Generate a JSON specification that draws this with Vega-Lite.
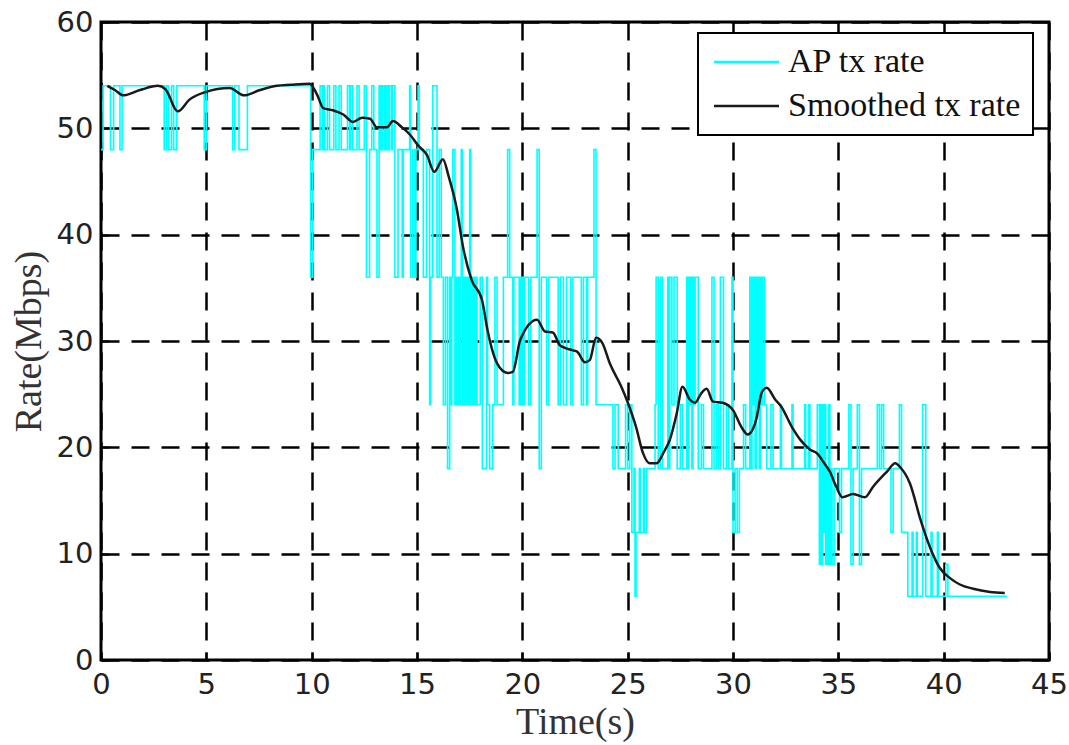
{
  "$schema": "https://vega.github.io/schema/vega-lite/v6.json",
  "width": 948,
  "height": 638,
  "autosize": {"type": "none"},
  "padding": {"left": 101, "top": 22, "right": 20, "bottom": 85},
  "background": "white",
  "config": {
    "view": {"stroke": "black", "strokeWidth": 3},
    "axis": {
      "domain": false,
      "grid": true,
      "gridColor": "black",
      "gridDash": [18, 12],
      "gridWidth": 2.5,
      "tickColor": "black",
      "tickSize": -8,
      "tickWidth": 2,
      "labelFont": "DejaVu Sans",
      "labelFontSize": 29,
      "labelColor": "#222",
      "titleFont": "Liberation Serif",
      "titleFontSize": 38,
      "titleFontWeight": "normal",
      "titleColor": "#333"
    },
    "legend": {
      "orient": "none",
      "legendX": 597,
      "legendY": 11,
      "direction": "vertical",
      "fillColor": "white",
      "strokeColor": "black",
      "strokeWidth": 2,
      "padding": 12,
      "symbolType": "M-1,0H4",
      "symbolSize": 676,
      "symbolStrokeWidth": 2.5,
      "labelFont": "Liberation Serif",
      "labelFontSize": 34,
      "labelColor": "#111",
      "labelOffset": 44,
      "labelLimit": 0,
      "rowPadding": 10,
      "title": null
    }
  },
  "datasets": {
    "ap": [
      {"t": 0.0, "rate": 48, "series": "AP tx rate"},
      {"t": 0.1, "rate": 54, "series": "AP tx rate"},
      {"t": 0.45, "rate": 48, "series": "AP tx rate"},
      {"t": 0.6, "rate": 54, "series": "AP tx rate"},
      {"t": 0.9, "rate": 48, "series": "AP tx rate"},
      {"t": 1.0, "rate": 54, "series": "AP tx rate"},
      {"t": 3.0, "rate": 48, "series": "AP tx rate"},
      {"t": 3.1, "rate": 54, "series": "AP tx rate"},
      {"t": 3.2, "rate": 48, "series": "AP tx rate"},
      {"t": 3.35, "rate": 54, "series": "AP tx rate"},
      {"t": 3.45, "rate": 48, "series": "AP tx rate"},
      {"t": 3.6, "rate": 54, "series": "AP tx rate"},
      {"t": 4.9, "rate": 48, "series": "AP tx rate"},
      {"t": 5.0, "rate": 54, "series": "AP tx rate"},
      {"t": 6.25, "rate": 48, "series": "AP tx rate"},
      {"t": 6.35, "rate": 54, "series": "AP tx rate"},
      {"t": 6.55, "rate": 48, "series": "AP tx rate"},
      {"t": 6.95, "rate": 54, "series": "AP tx rate"},
      {"t": 9.95, "rate": 36, "series": "AP tx rate"},
      {"t": 10.05, "rate": 48, "series": "AP tx rate"},
      {"t": 10.4, "rate": 54, "series": "AP tx rate"},
      {"t": 10.5, "rate": 48, "series": "AP tx rate"},
      {"t": 10.55, "rate": 54, "series": "AP tx rate"},
      {"t": 10.6, "rate": 48, "series": "AP tx rate"},
      {"t": 10.75, "rate": 54, "series": "AP tx rate"},
      {"t": 10.85, "rate": 48, "series": "AP tx rate"},
      {"t": 11.05, "rate": 54, "series": "AP tx rate"},
      {"t": 11.15, "rate": 48, "series": "AP tx rate"},
      {"t": 11.3, "rate": 54, "series": "AP tx rate"},
      {"t": 11.4, "rate": 48, "series": "AP tx rate"},
      {"t": 11.7, "rate": 54, "series": "AP tx rate"},
      {"t": 11.8, "rate": 48, "series": "AP tx rate"},
      {"t": 11.85, "rate": 54, "series": "AP tx rate"},
      {"t": 11.95, "rate": 48, "series": "AP tx rate"},
      {"t": 12.15, "rate": 54, "series": "AP tx rate"},
      {"t": 12.25, "rate": 48, "series": "AP tx rate"},
      {"t": 12.5, "rate": 54, "series": "AP tx rate"},
      {"t": 12.6, "rate": 36, "series": "AP tx rate"},
      {"t": 12.75, "rate": 48, "series": "AP tx rate"},
      {"t": 12.85, "rate": 54, "series": "AP tx rate"},
      {"t": 12.95, "rate": 48, "series": "AP tx rate"},
      {"t": 13.1, "rate": 36, "series": "AP tx rate"},
      {"t": 13.2, "rate": 54, "series": "AP tx rate"},
      {"t": 13.25, "rate": 48, "series": "AP tx rate"},
      {"t": 13.28, "rate": 54, "series": "AP tx rate"},
      {"t": 13.32, "rate": 48, "series": "AP tx rate"},
      {"t": 13.36, "rate": 54, "series": "AP tx rate"},
      {"t": 13.45, "rate": 48, "series": "AP tx rate"},
      {"t": 13.48, "rate": 54, "series": "AP tx rate"},
      {"t": 13.55, "rate": 48, "series": "AP tx rate"},
      {"t": 13.58, "rate": 54, "series": "AP tx rate"},
      {"t": 13.66, "rate": 48, "series": "AP tx rate"},
      {"t": 13.7, "rate": 54, "series": "AP tx rate"},
      {"t": 13.8, "rate": 48, "series": "AP tx rate"},
      {"t": 13.83, "rate": 54, "series": "AP tx rate"},
      {"t": 13.95, "rate": 36, "series": "AP tx rate"},
      {"t": 14.1, "rate": 48, "series": "AP tx rate"},
      {"t": 14.3, "rate": 36, "series": "AP tx rate"},
      {"t": 14.35, "rate": 48, "series": "AP tx rate"},
      {"t": 14.65, "rate": 54, "series": "AP tx rate"},
      {"t": 14.7, "rate": 36, "series": "AP tx rate"},
      {"t": 14.8, "rate": 48, "series": "AP tx rate"},
      {"t": 14.9, "rate": 36, "series": "AP tx rate"},
      {"t": 14.95, "rate": 48, "series": "AP tx rate"},
      {"t": 15.05, "rate": 54, "series": "AP tx rate"},
      {"t": 15.1, "rate": 48, "series": "AP tx rate"},
      {"t": 15.3, "rate": 36, "series": "AP tx rate"},
      {"t": 15.45, "rate": 48, "series": "AP tx rate"},
      {"t": 15.6, "rate": 24, "series": "AP tx rate"},
      {"t": 15.65, "rate": 36, "series": "AP tx rate"},
      {"t": 15.75, "rate": 54, "series": "AP tx rate"},
      {"t": 15.95, "rate": 36, "series": "AP tx rate"},
      {"t": 16.05, "rate": 48, "series": "AP tx rate"},
      {"t": 16.15, "rate": 36, "series": "AP tx rate"},
      {"t": 16.25, "rate": 24, "series": "AP tx rate"},
      {"t": 16.35, "rate": 36, "series": "AP tx rate"},
      {"t": 16.45, "rate": 18, "series": "AP tx rate"},
      {"t": 16.55, "rate": 36, "series": "AP tx rate"},
      {"t": 16.6, "rate": 24, "series": "AP tx rate"},
      {"t": 16.65, "rate": 36, "series": "AP tx rate"},
      {"t": 16.7, "rate": 48, "series": "AP tx rate"},
      {"t": 16.8, "rate": 24, "series": "AP tx rate"},
      {"t": 16.85, "rate": 36, "series": "AP tx rate"},
      {"t": 16.9, "rate": 24, "series": "AP tx rate"},
      {"t": 16.95, "rate": 36, "series": "AP tx rate"},
      {"t": 17.0, "rate": 24, "series": "AP tx rate"},
      {"t": 17.05, "rate": 36, "series": "AP tx rate"},
      {"t": 17.1, "rate": 48, "series": "AP tx rate"},
      {"t": 17.15, "rate": 24, "series": "AP tx rate"},
      {"t": 17.2, "rate": 36, "series": "AP tx rate"},
      {"t": 17.25, "rate": 24, "series": "AP tx rate"},
      {"t": 17.3, "rate": 36, "series": "AP tx rate"},
      {"t": 17.35, "rate": 24, "series": "AP tx rate"},
      {"t": 17.4, "rate": 36, "series": "AP tx rate"},
      {"t": 17.45, "rate": 24, "series": "AP tx rate"},
      {"t": 17.5, "rate": 48, "series": "AP tx rate"},
      {"t": 17.55, "rate": 24, "series": "AP tx rate"},
      {"t": 17.6, "rate": 36, "series": "AP tx rate"},
      {"t": 17.65, "rate": 24, "series": "AP tx rate"},
      {"t": 17.7, "rate": 36, "series": "AP tx rate"},
      {"t": 17.75, "rate": 24, "series": "AP tx rate"},
      {"t": 17.8, "rate": 36, "series": "AP tx rate"},
      {"t": 17.85, "rate": 24, "series": "AP tx rate"},
      {"t": 18.0, "rate": 36, "series": "AP tx rate"},
      {"t": 18.1, "rate": 18, "series": "AP tx rate"},
      {"t": 18.3, "rate": 36, "series": "AP tx rate"},
      {"t": 18.35, "rate": 24, "series": "AP tx rate"},
      {"t": 18.45, "rate": 18, "series": "AP tx rate"},
      {"t": 18.6, "rate": 24, "series": "AP tx rate"},
      {"t": 18.7, "rate": 36, "series": "AP tx rate"},
      {"t": 18.8, "rate": 24, "series": "AP tx rate"},
      {"t": 19.1, "rate": 36, "series": "AP tx rate"},
      {"t": 19.3, "rate": 48, "series": "AP tx rate"},
      {"t": 19.4, "rate": 36, "series": "AP tx rate"},
      {"t": 19.55, "rate": 24, "series": "AP tx rate"},
      {"t": 19.6, "rate": 36, "series": "AP tx rate"},
      {"t": 19.85, "rate": 24, "series": "AP tx rate"},
      {"t": 19.9, "rate": 36, "series": "AP tx rate"},
      {"t": 19.95, "rate": 24, "series": "AP tx rate"},
      {"t": 20.0, "rate": 36, "series": "AP tx rate"},
      {"t": 20.05, "rate": 24, "series": "AP tx rate"},
      {"t": 20.1, "rate": 36, "series": "AP tx rate"},
      {"t": 20.3, "rate": 24, "series": "AP tx rate"},
      {"t": 20.4, "rate": 36, "series": "AP tx rate"},
      {"t": 20.7, "rate": 48, "series": "AP tx rate"},
      {"t": 20.8, "rate": 18, "series": "AP tx rate"},
      {"t": 20.9, "rate": 36, "series": "AP tx rate"},
      {"t": 21.15, "rate": 24, "series": "AP tx rate"},
      {"t": 21.25, "rate": 36, "series": "AP tx rate"},
      {"t": 21.7, "rate": 24, "series": "AP tx rate"},
      {"t": 21.8, "rate": 36, "series": "AP tx rate"},
      {"t": 21.95, "rate": 24, "series": "AP tx rate"},
      {"t": 22.1, "rate": 36, "series": "AP tx rate"},
      {"t": 22.3, "rate": 24, "series": "AP tx rate"},
      {"t": 22.4, "rate": 36, "series": "AP tx rate"},
      {"t": 22.8, "rate": 24, "series": "AP tx rate"},
      {"t": 22.9, "rate": 36, "series": "AP tx rate"},
      {"t": 23.05, "rate": 24, "series": "AP tx rate"},
      {"t": 23.1, "rate": 36, "series": "AP tx rate"},
      {"t": 23.4, "rate": 48, "series": "AP tx rate"},
      {"t": 23.5, "rate": 24, "series": "AP tx rate"},
      {"t": 24.3, "rate": 18, "series": "AP tx rate"},
      {"t": 24.4, "rate": 24, "series": "AP tx rate"},
      {"t": 24.55, "rate": 18, "series": "AP tx rate"},
      {"t": 24.9, "rate": 24, "series": "AP tx rate"},
      {"t": 25.0, "rate": 18, "series": "AP tx rate"},
      {"t": 25.1, "rate": 24, "series": "AP tx rate"},
      {"t": 25.2, "rate": 12, "series": "AP tx rate"},
      {"t": 25.3, "rate": 18, "series": "AP tx rate"},
      {"t": 25.35, "rate": 6, "series": "AP tx rate"},
      {"t": 25.4, "rate": 12, "series": "AP tx rate"},
      {"t": 25.55, "rate": 18, "series": "AP tx rate"},
      {"t": 25.6, "rate": 12, "series": "AP tx rate"},
      {"t": 25.75, "rate": 18, "series": "AP tx rate"},
      {"t": 25.8, "rate": 12, "series": "AP tx rate"},
      {"t": 25.9, "rate": 18, "series": "AP tx rate"},
      {"t": 26.3, "rate": 24, "series": "AP tx rate"},
      {"t": 26.35, "rate": 36, "series": "AP tx rate"},
      {"t": 26.45, "rate": 18, "series": "AP tx rate"},
      {"t": 26.55, "rate": 36, "series": "AP tx rate"},
      {"t": 26.65, "rate": 18, "series": "AP tx rate"},
      {"t": 26.9, "rate": 36, "series": "AP tx rate"},
      {"t": 26.95, "rate": 18, "series": "AP tx rate"},
      {"t": 27.0, "rate": 36, "series": "AP tx rate"},
      {"t": 27.1, "rate": 24, "series": "AP tx rate"},
      {"t": 27.2, "rate": 36, "series": "AP tx rate"},
      {"t": 27.35, "rate": 18, "series": "AP tx rate"},
      {"t": 27.5, "rate": 24, "series": "AP tx rate"},
      {"t": 27.6, "rate": 18, "series": "AP tx rate"},
      {"t": 27.8, "rate": 36, "series": "AP tx rate"},
      {"t": 27.85, "rate": 18, "series": "AP tx rate"},
      {"t": 27.9, "rate": 36, "series": "AP tx rate"},
      {"t": 27.95, "rate": 24, "series": "AP tx rate"},
      {"t": 28.0, "rate": 36, "series": "AP tx rate"},
      {"t": 28.05, "rate": 18, "series": "AP tx rate"},
      {"t": 28.1, "rate": 36, "series": "AP tx rate"},
      {"t": 28.15, "rate": 24, "series": "AP tx rate"},
      {"t": 28.2, "rate": 36, "series": "AP tx rate"},
      {"t": 28.35, "rate": 18, "series": "AP tx rate"},
      {"t": 28.5, "rate": 24, "series": "AP tx rate"},
      {"t": 28.6, "rate": 18, "series": "AP tx rate"},
      {"t": 29.0, "rate": 36, "series": "AP tx rate"},
      {"t": 29.1, "rate": 18, "series": "AP tx rate"},
      {"t": 29.2, "rate": 24, "series": "AP tx rate"},
      {"t": 29.3, "rate": 18, "series": "AP tx rate"},
      {"t": 29.4, "rate": 36, "series": "AP tx rate"},
      {"t": 29.55, "rate": 18, "series": "AP tx rate"},
      {"t": 29.7, "rate": 24, "series": "AP tx rate"},
      {"t": 29.8, "rate": 18, "series": "AP tx rate"},
      {"t": 29.95, "rate": 36, "series": "AP tx rate"},
      {"t": 30.0, "rate": 12, "series": "AP tx rate"},
      {"t": 30.1, "rate": 18, "series": "AP tx rate"},
      {"t": 30.2, "rate": 12, "series": "AP tx rate"},
      {"t": 30.3, "rate": 18, "series": "AP tx rate"},
      {"t": 30.5, "rate": 24, "series": "AP tx rate"},
      {"t": 30.6, "rate": 18, "series": "AP tx rate"},
      {"t": 30.8, "rate": 36, "series": "AP tx rate"},
      {"t": 30.85, "rate": 18, "series": "AP tx rate"},
      {"t": 30.9, "rate": 36, "series": "AP tx rate"},
      {"t": 30.95, "rate": 24, "series": "AP tx rate"},
      {"t": 31.0, "rate": 36, "series": "AP tx rate"},
      {"t": 31.05, "rate": 18, "series": "AP tx rate"},
      {"t": 31.1, "rate": 36, "series": "AP tx rate"},
      {"t": 31.15, "rate": 24, "series": "AP tx rate"},
      {"t": 31.2, "rate": 36, "series": "AP tx rate"},
      {"t": 31.25, "rate": 18, "series": "AP tx rate"},
      {"t": 31.3, "rate": 36, "series": "AP tx rate"},
      {"t": 31.35, "rate": 24, "series": "AP tx rate"},
      {"t": 31.4, "rate": 36, "series": "AP tx rate"},
      {"t": 31.5, "rate": 24, "series": "AP tx rate"},
      {"t": 31.6, "rate": 18, "series": "AP tx rate"},
      {"t": 31.8, "rate": 24, "series": "AP tx rate"},
      {"t": 31.9, "rate": 18, "series": "AP tx rate"},
      {"t": 32.25, "rate": 24, "series": "AP tx rate"},
      {"t": 32.3, "rate": 18, "series": "AP tx rate"},
      {"t": 32.8, "rate": 24, "series": "AP tx rate"},
      {"t": 32.85, "rate": 18, "series": "AP tx rate"},
      {"t": 33.4, "rate": 24, "series": "AP tx rate"},
      {"t": 33.45, "rate": 18, "series": "AP tx rate"},
      {"t": 33.6, "rate": 24, "series": "AP tx rate"},
      {"t": 33.65, "rate": 18, "series": "AP tx rate"},
      {"t": 34.0, "rate": 24, "series": "AP tx rate"},
      {"t": 34.1, "rate": 9, "series": "AP tx rate"},
      {"t": 34.15, "rate": 24, "series": "AP tx rate"},
      {"t": 34.2, "rate": 9, "series": "AP tx rate"},
      {"t": 34.25, "rate": 24, "series": "AP tx rate"},
      {"t": 34.3, "rate": 12, "series": "AP tx rate"},
      {"t": 34.35, "rate": 24, "series": "AP tx rate"},
      {"t": 34.4, "rate": 9, "series": "AP tx rate"},
      {"t": 34.45, "rate": 18, "series": "AP tx rate"},
      {"t": 34.5, "rate": 9, "series": "AP tx rate"},
      {"t": 34.55, "rate": 24, "series": "AP tx rate"},
      {"t": 34.6, "rate": 9, "series": "AP tx rate"},
      {"t": 34.65, "rate": 18, "series": "AP tx rate"},
      {"t": 34.7, "rate": 9, "series": "AP tx rate"},
      {"t": 34.8, "rate": 18, "series": "AP tx rate"},
      {"t": 35.05, "rate": 12, "series": "AP tx rate"},
      {"t": 35.15, "rate": 18, "series": "AP tx rate"},
      {"t": 35.5, "rate": 24, "series": "AP tx rate"},
      {"t": 35.6, "rate": 9, "series": "AP tx rate"},
      {"t": 35.7, "rate": 18, "series": "AP tx rate"},
      {"t": 35.9, "rate": 24, "series": "AP tx rate"},
      {"t": 36.0, "rate": 9, "series": "AP tx rate"},
      {"t": 36.1, "rate": 18, "series": "AP tx rate"},
      {"t": 36.85, "rate": 24, "series": "AP tx rate"},
      {"t": 36.95, "rate": 18, "series": "AP tx rate"},
      {"t": 37.05, "rate": 24, "series": "AP tx rate"},
      {"t": 37.15, "rate": 18, "series": "AP tx rate"},
      {"t": 37.5, "rate": 12, "series": "AP tx rate"},
      {"t": 37.6, "rate": 18, "series": "AP tx rate"},
      {"t": 37.9, "rate": 24, "series": "AP tx rate"},
      {"t": 38.0, "rate": 12, "series": "AP tx rate"},
      {"t": 38.3, "rate": 6, "series": "AP tx rate"},
      {"t": 38.5, "rate": 12, "series": "AP tx rate"},
      {"t": 38.55, "rate": 6, "series": "AP tx rate"},
      {"t": 38.7, "rate": 12, "series": "AP tx rate"},
      {"t": 38.75, "rate": 6, "series": "AP tx rate"},
      {"t": 39.0, "rate": 24, "series": "AP tx rate"},
      {"t": 39.15, "rate": 6, "series": "AP tx rate"},
      {"t": 39.4, "rate": 12, "series": "AP tx rate"},
      {"t": 39.45, "rate": 6, "series": "AP tx rate"},
      {"t": 39.7, "rate": 12, "series": "AP tx rate"},
      {"t": 39.75, "rate": 6, "series": "AP tx rate"},
      {"t": 40.1, "rate": 9, "series": "AP tx rate"},
      {"t": 40.2, "rate": 6, "series": "AP tx rate"},
      {"t": 43.0, "rate": 6, "series": "AP tx rate"}
    ],
    "smooth": [
      {"t": 0.3, "rate": 54.0, "series": "Smoothed tx rate"},
      {"t": 0.66, "rate": 53.6, "series": "Smoothed tx rate"},
      {"t": 1.05, "rate": 53.1, "series": "Smoothed tx rate"},
      {"t": 1.85, "rate": 53.6, "series": "Smoothed tx rate"},
      {"t": 2.7, "rate": 54.0, "series": "Smoothed tx rate"},
      {"t": 3.05, "rate": 53.7, "series": "Smoothed tx rate"},
      {"t": 3.65, "rate": 51.6, "series": "Smoothed tx rate"},
      {"t": 4.2, "rate": 52.7, "series": "Smoothed tx rate"},
      {"t": 4.94, "rate": 53.4, "series": "Smoothed tx rate"},
      {"t": 6.1, "rate": 53.8, "series": "Smoothed tx rate"},
      {"t": 6.8, "rate": 53.1, "series": "Smoothed tx rate"},
      {"t": 7.55, "rate": 53.6, "series": "Smoothed tx rate"},
      {"t": 8.35, "rate": 54.0, "series": "Smoothed tx rate"},
      {"t": 9.0, "rate": 54.1, "series": "Smoothed tx rate"},
      {"t": 9.9, "rate": 54.2, "series": "Smoothed tx rate"},
      {"t": 10.25, "rate": 53.2, "series": "Smoothed tx rate"},
      {"t": 10.55, "rate": 51.9, "series": "Smoothed tx rate"},
      {"t": 11.0, "rate": 51.7, "series": "Smoothed tx rate"},
      {"t": 11.5, "rate": 51.3, "series": "Smoothed tx rate"},
      {"t": 11.96, "rate": 50.6, "series": "Smoothed tx rate"},
      {"t": 12.4, "rate": 51.0, "series": "Smoothed tx rate"},
      {"t": 12.77, "rate": 50.9, "series": "Smoothed tx rate"},
      {"t": 13.1, "rate": 50.1, "series": "Smoothed tx rate"},
      {"t": 13.57, "rate": 50.1, "series": "Smoothed tx rate"},
      {"t": 13.86, "rate": 50.7, "series": "Smoothed tx rate"},
      {"t": 14.28, "rate": 50.1, "series": "Smoothed tx rate"},
      {"t": 14.67, "rate": 49.4, "series": "Smoothed tx rate"},
      {"t": 15.05, "rate": 48.4, "series": "Smoothed tx rate"},
      {"t": 15.47, "rate": 47.5, "series": "Smoothed tx rate"},
      {"t": 15.82, "rate": 45.9, "series": "Smoothed tx rate"},
      {"t": 16.23, "rate": 47.1, "series": "Smoothed tx rate"},
      {"t": 16.5, "rate": 45.5, "series": "Smoothed tx rate"},
      {"t": 16.9, "rate": 42.3, "series": "Smoothed tx rate"},
      {"t": 17.18, "rate": 38.9, "series": "Smoothed tx rate"},
      {"t": 17.6, "rate": 35.7, "series": "Smoothed tx rate"},
      {"t": 18.08, "rate": 33.9, "series": "Smoothed tx rate"},
      {"t": 18.37, "rate": 30.8, "series": "Smoothed tx rate"},
      {"t": 18.8, "rate": 27.9, "series": "Smoothed tx rate"},
      {"t": 19.3, "rate": 27.0, "series": "Smoothed tx rate"},
      {"t": 19.55, "rate": 27.1, "series": "Smoothed tx rate"},
      {"t": 19.9, "rate": 30.1, "series": "Smoothed tx rate"},
      {"t": 20.7, "rate": 32.0, "series": "Smoothed tx rate"},
      {"t": 21.07, "rate": 30.9, "series": "Smoothed tx rate"},
      {"t": 21.45, "rate": 30.8, "series": "Smoothed tx rate"},
      {"t": 21.78, "rate": 29.6, "series": "Smoothed tx rate"},
      {"t": 22.26, "rate": 29.2, "series": "Smoothed tx rate"},
      {"t": 22.6, "rate": 29.0, "series": "Smoothed tx rate"},
      {"t": 22.97, "rate": 28.0, "series": "Smoothed tx rate"},
      {"t": 23.2, "rate": 28.2, "series": "Smoothed tx rate"},
      {"t": 23.5, "rate": 30.3, "series": "Smoothed tx rate"},
      {"t": 23.8, "rate": 29.8, "series": "Smoothed tx rate"},
      {"t": 24.15, "rate": 27.9, "series": "Smoothed tx rate"},
      {"t": 24.7, "rate": 25.7, "series": "Smoothed tx rate"},
      {"t": 24.95, "rate": 24.5, "series": "Smoothed tx rate"},
      {"t": 25.4, "rate": 21.9, "series": "Smoothed tx rate"},
      {"t": 25.72, "rate": 19.5, "series": "Smoothed tx rate"},
      {"t": 26.05, "rate": 18.5, "series": "Smoothed tx rate"},
      {"t": 26.38, "rate": 18.5, "series": "Smoothed tx rate"},
      {"t": 26.7, "rate": 19.5, "series": "Smoothed tx rate"},
      {"t": 27.0, "rate": 20.7, "series": "Smoothed tx rate"},
      {"t": 27.33, "rate": 23.2, "series": "Smoothed tx rate"},
      {"t": 27.6, "rate": 25.7, "series": "Smoothed tx rate"},
      {"t": 27.95, "rate": 24.5, "series": "Smoothed tx rate"},
      {"t": 28.2, "rate": 24.2, "series": "Smoothed tx rate"},
      {"t": 28.5, "rate": 25.1, "series": "Smoothed tx rate"},
      {"t": 28.75, "rate": 25.5, "series": "Smoothed tx rate"},
      {"t": 29.05, "rate": 24.3, "series": "Smoothed tx rate"},
      {"t": 29.5, "rate": 24.2, "series": "Smoothed tx rate"},
      {"t": 30.0, "rate": 23.5, "series": "Smoothed tx rate"},
      {"t": 30.4, "rate": 21.9, "series": "Smoothed tx rate"},
      {"t": 30.7, "rate": 21.2, "series": "Smoothed tx rate"},
      {"t": 31.1, "rate": 22.6, "series": "Smoothed tx rate"},
      {"t": 31.37, "rate": 25.2, "series": "Smoothed tx rate"},
      {"t": 31.6, "rate": 25.6, "series": "Smoothed tx rate"},
      {"t": 32.0, "rate": 24.5, "series": "Smoothed tx rate"},
      {"t": 32.3, "rate": 23.8, "series": "Smoothed tx rate"},
      {"t": 32.8, "rate": 21.9, "series": "Smoothed tx rate"},
      {"t": 33.2, "rate": 20.7, "series": "Smoothed tx rate"},
      {"t": 33.65, "rate": 19.8, "series": "Smoothed tx rate"},
      {"t": 34.0, "rate": 19.4, "series": "Smoothed tx rate"},
      {"t": 34.3, "rate": 18.6, "series": "Smoothed tx rate"},
      {"t": 34.6, "rate": 17.7, "series": "Smoothed tx rate"},
      {"t": 34.9, "rate": 16.3, "series": "Smoothed tx rate"},
      {"t": 35.2, "rate": 15.3, "series": "Smoothed tx rate"},
      {"t": 35.7, "rate": 15.6, "series": "Smoothed tx rate"},
      {"t": 36.26, "rate": 15.3, "series": "Smoothed tx rate"},
      {"t": 36.65, "rate": 16.3, "series": "Smoothed tx rate"},
      {"t": 37.3, "rate": 17.7, "series": "Smoothed tx rate"},
      {"t": 37.7, "rate": 18.5, "series": "Smoothed tx rate"},
      {"t": 37.95, "rate": 18.1, "series": "Smoothed tx rate"},
      {"t": 38.4, "rate": 16.6, "series": "Smoothed tx rate"},
      {"t": 38.9, "rate": 13.2, "series": "Smoothed tx rate"},
      {"t": 39.35, "rate": 10.6, "series": "Smoothed tx rate"},
      {"t": 39.8, "rate": 8.7, "series": "Smoothed tx rate"},
      {"t": 40.3, "rate": 7.7, "series": "Smoothed tx rate"},
      {"t": 40.77, "rate": 7.1, "series": "Smoothed tx rate"},
      {"t": 41.4, "rate": 6.7, "series": "Smoothed tx rate"},
      {"t": 42.2, "rate": 6.4, "series": "Smoothed tx rate"},
      {"t": 42.9, "rate": 6.3, "series": "Smoothed tx rate"}
    ]
  },
  "encoding": {
    "x": {
      "field": "t",
      "type": "quantitative",
      "title": "Time(s)",
      "scale": {"domain": [0, 45], "nice": false, "zero": false},
      "axis": {"values": [0, 5, 10, 15, 20, 25, 30, 35, 40, 45], "labelPadding": 18, "titlePadding": 4, "labelFlush": false}
    },
    "y": {
      "field": "rate",
      "type": "quantitative",
      "title": "Rate(Mbps)",
      "scale": {"domain": [0, 60], "nice": false},
      "axis": {"values": [0, 10, 20, 30, 40, 50, 60], "labelPadding": 16, "titlePadding": 8}
    },
    "color": {
      "field": "series",
      "type": "nominal",
      "scale": {"domain": ["AP tx rate", "Smoothed tx rate"], "range": ["#00FFFF", "#1a1a1a"]},
      "legend": {"title": null}
    }
  },
  "layer": [
    {
      "data": {"name": "ap"},
      "mark": {"type": "line", "interpolate": "step-after", "strokeWidth": 1.6}
    },
    {
      "data": {"name": "smooth"},
      "mark": {"type": "line", "interpolate": "monotone", "strokeWidth": 2.5}
    }
  ]
}
